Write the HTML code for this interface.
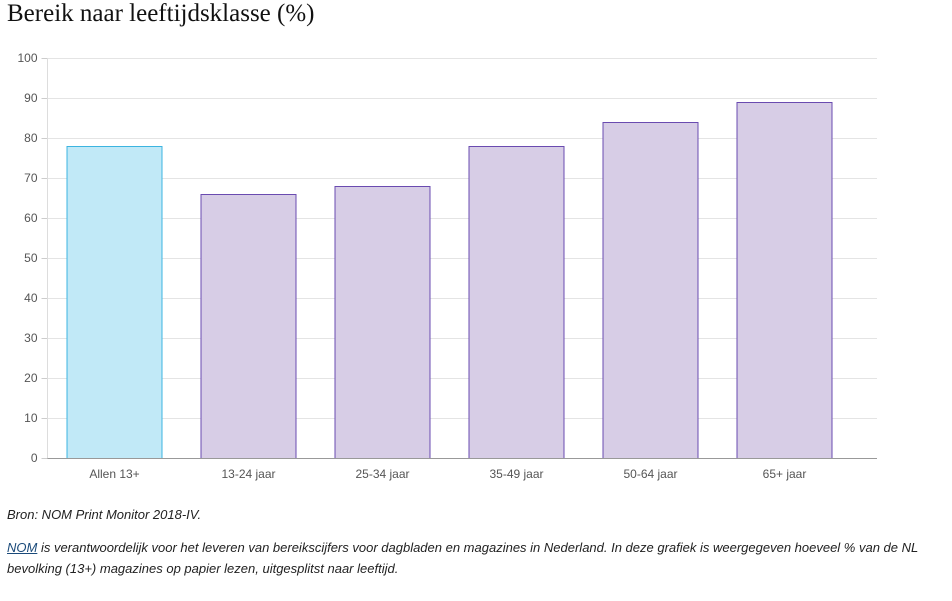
<!DOCTYPE html>
<html><head><meta charset="utf-8">
<style>
body{margin:0;width:952px;height:601px;background:#fff;overflow:hidden;font-family:"Liberation Sans",sans-serif;}
#title{position:absolute;left:7px;top:0px;font-family:"Liberation Serif",serif;font-size:25px;color:#111;margin:0;font-weight:normal;}
.foot{position:absolute;left:7px;font-style:italic;font-size:13px;color:#222;white-space:nowrap;}
.foot a{color:#1a4a7a;}
svg{position:absolute;left:0;top:0;}
</style></head><body>
<h1 id="title">Bereik naar leeftijdsklasse (%)</h1>
<svg id="chart" width="952" height="500"></svg>
<div class="foot" style="top:507px">Bron: NOM Print Monitor 2018-IV.</div>
<div class="foot" style="top:540px"><a href="#">NOM</a> is verantwoordelijk voor het leveren van bereikscijfers voor dagbladen en magazines in Nederland. In deze grafiek is weergegeven hoeveel % van de NL</div>
<div class="foot" style="top:561px">bevolking (13+) magazines op papier lezen, uitgesplitst naar leeftijd.</div>
<script>
const categories=["Allen 13+","13-24 jaar","25-34 jaar","35-49 jaar","50-64 jaar","65+ jaar"];
const values=[78,66,68,78,84,89];
const yTicks=[0,10,20,30,40,50,60,70,80,90,100];
const NS="http://www.w3.org/2000/svg";
const svg=document.getElementById('chart');
const x0=47.5,x1=877,y0=458,y1=58,band=134,barW=95,firstCenter=114.5;
const y=v=>y0-(v/100)*(y0-y1);
const xc=i=>firstCenter+i*band;
function mk(t,a){const e=document.createElementNS(NS,t);for(const k in a)e.setAttribute(k,a[k]);svg.appendChild(e);return e;}
yTicks.forEach(t=>{
  const g=mk('line',{x1:x0,x2:x1,y1:y(t)+0.5,y2:y(t)+0.5,stroke:t===0?'#999':'#e4e4e4','stroke-width':1});
  
  
  const tk=mk('line',{x1:x0-6,x2:x0,y1:y(t)+0.5,y2:y(t)+0.5,stroke:'#ccc'});
  
  
  const l=mk('text',{x:x0-10,y:y(t)+4,'text-anchor':'end','font-size':12,fill:'#555','font-family':'Liberation Sans, sans-serif'});
  l.textContent=t;
  
  
});
mk('line',{x1:x0,x2:x0,y1:y1,y2:y0,stroke:'#ddd'});
categories.forEach((c,i)=>{
  const first=i===0;
  const r=mk('rect',{x:xc(i)-barW/2,y:y(values[i])+0.5,width:barW,height:y0-y(values[i]),fill:first?'#c1e9f7':'#d7cde6',stroke:first?'#3cb4e0':'#6a4bb0','stroke-width':1});
  
  
  const l=mk('text',{x:xc(i),y:y0+20,'text-anchor':'middle','font-size':12,fill:'#555','font-family':'Liberation Sans, sans-serif'});
  l.textContent=c;
  
  
});
mk('line',{x1:x0,x2:x1,y1:y0+0.5,y2:y0+0.5,stroke:'#999'});
</script>
</body></html>
